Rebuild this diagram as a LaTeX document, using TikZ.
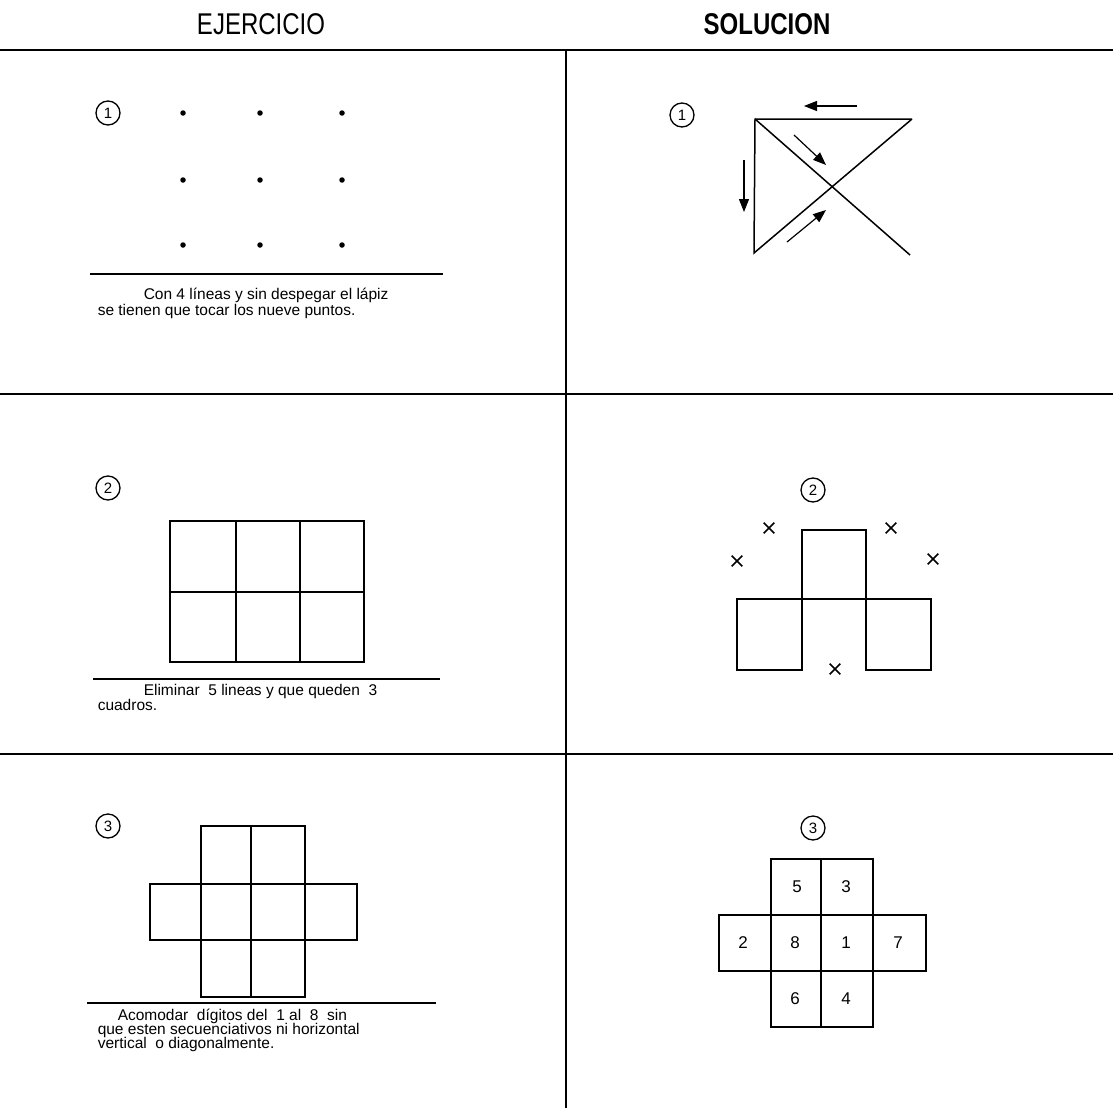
\documentclass[tikz,border=0pt]{standalone}
\usepackage{fontspec}
\setmainfont{Liberation Sans}
\newfontfamily\headfont[FakeStretch=0.8]{Liberation Sans}
\newfontfamily\capfont{Liberation Sans}
\usetikzlibrary{arrows.meta,shapes.misc}
\begin{document}
\begin{tikzpicture}[x=1pt,y=-1pt,line width=1.5pt,
  head/.style={inner sep=0pt,font=\headfont\fontsize{30}{32}\selectfont},
  capt/.style={inner sep=0pt,anchor=west,font=\capfont\fontsize{15.5}{16}\selectfont},
  circnum/.style={circle,draw,line width=1.3pt,inner sep=0pt,minimum size=24pt,font=\fontsize{15}{15}\selectfont},
  dotmark/.style={circle,fill,inner sep=0pt,minimum size=5.5pt},
  digit/.style={inner sep=0pt,font=\fontsize{17}{17}\selectfont},
  cross/.style={cross out,draw,line width=1.6pt,inner sep=0pt,minimum size=9pt},
  sep/.style={line width=2.2pt},
  arr/.style={line width=1.2pt,-{Triangle[length=13pt,width=10pt]}}]
\useasboundingbox (0,0) rectangle (1113,1108);
% frame lines
\coordinate (t0) at (0,50); \coordinate (t1) at (1113,50);
\coordinate (m0) at (0,394); \coordinate (m1) at (1113,394);
\coordinate (n0) at (0,754); \coordinate (n1) at (1113,754);
\coordinate (v0) at (566,50); \coordinate (v1) at (566,1108);
\draw[sep] (t0) -- (t1);
\draw[sep] (m0) -- (m1);
\draw[sep] (n0) -- (n1);
\draw[sep] (v0) -- (v1);
\node[head] (h1) at (261,24) {EJERCICIO};
\node[head,font=\headfont\bfseries\fontsize{30}{32}\selectfont] (h2) at (767,24) {SOLUCION};

% ---------- exercise 1
\node[circnum] (c1) at (108,113) {1};
\foreach \x/\i in {183/a,260/b,342/c}
  \foreach \y/\j in {113/1,180/2,245/3}
    \node[dotmark] (d\i\j) at (\x,\y) {};
\coordinate (l1a) at (90,274); \coordinate (l1b) at (443,274);
\draw[line width=1.4pt] (l1a) -- (l1b);
\node[capt] (t1a) at (143,295) {Con 4 líneas y sin despegar el lápiz};
\node[capt] (t1b) at (97,311) {se tienen que tocar los nueve puntos.};

% ---------- solution 1
\node[circnum] (s1) at (682,115) {1};
\coordinate (A) at (755,119); \coordinate (B) at (912,119);
\coordinate (C) at (754,253); \coordinate (D) at (910,255);
\draw (B) -- (A) -- (C) -- (B);
\draw (A) -- (D);
\coordinate (a1s) at (857,106); \coordinate (a1e) at (804,106);
\draw[arr] (a1s) -- (a1e);
\coordinate (a2s) at (744,160); \coordinate (a2e) at (744,212);
\draw[arr] (a2s) -- (a2e);
\coordinate (a3s) at (794,135); \coordinate (a3e) at (826,165);
\draw[arr] (a3s) -- (a3e);
\coordinate (a4s) at (787,242); \coordinate (a4e) at (826,210);
\draw[arr] (a4s) -- (a4e);

% ---------- exercise 2
\node[circnum] (c2) at (108,488) {2};
\draw (170,521) rectangle (364,662);
\draw (236,521) -- (236,662);
\draw (300,521) -- (300,662);
\draw (170,592) -- (364,592);
\coordinate (l2a) at (93,679); \coordinate (l2b) at (440,679);
\draw[line width=1.4pt] (l2a) -- (l2b);
\node[capt] (t2a) at (143,691) {Eliminar\ \ 5 lineas y que queden\ \ 3};
\node[capt] (t2b) at (97,705) {cuadros.};

% ---------- solution 2
\node[circnum] (s2) at (813,490) {2};
\draw (802,600) -- (802,530) -- (866,530) -- (866,600);
\draw (737,599) rectangle (802,670);
\draw (866,599) rectangle (931,670);
\draw (802,599) -- (866,599);
\node[cross] (x1) at (769,528) {};
\node[cross] (x2) at (737,561) {};
\node[cross] (x3) at (891,528) {};
\node[cross] (x4) at (933,559) {};
\node[cross] (x5) at (835,669) {};

% ---------- exercise 3
\node[circnum] (c3) at (108,826) {3};
\draw (201,826) rectangle (305,997);
\draw (251,826) -- (251,997);
\draw (150,884) rectangle (357,940);
\coordinate (l3a) at (87,1003); \coordinate (l3b) at (436,1003);
\draw[line width=1.4pt] (l3a) -- (l3b);
\node[capt] (t3a) at (117,1016) {Acomodar\ \ dígitos del\ \ 1 al\ \ 8\ \ sin};
\node[capt] (t3b) at (97,1030) {que esten secuenciativos ni horizontal};
\node[capt] (t3c) at (97,1044) {vertical\ \ o diagonalmente.};

% ---------- solution 3
\node[circnum] (s3) at (813,828) {3};
\draw (771,859) rectangle (873,1027);
\draw (821,859) -- (821,1027);
\draw (719,915) rectangle (926,971);
\node[digit] (n5) at (797,887) {5};
\node[digit] (n3) at (846,887) {3};
\node[digit] (n2) at (743,943) {2};
\node[digit] (n8) at (795,943) {8};
\node[digit] (n1) at (846,943) {1};
\node[digit] (n7) at (898,943) {7};
\node[digit] (n6) at (795,999) {6};
\node[digit] (n4) at (846,999) {4};
\end{tikzpicture}
\end{document}
